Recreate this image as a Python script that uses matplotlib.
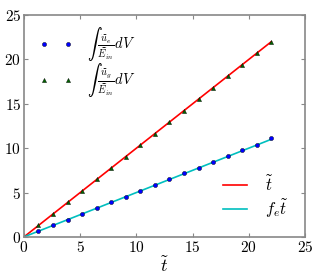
import matplotlib
matplotlib.use("Agg")
from matplotlib import pyplot as plt

plt.rcParams['mathtext.fontset'] = 'cm'
plt.rcParams['font.family'] = 'serif'
plt.rcParams['font.serif'] = ['cmr10']
plt.rcParams['axes.formatter.use_mathtext'] = True

# time samples and integrated energies
t = [1.29, 2.59, 3.88, 5.18, 6.47, 7.76, 9.06, 10.35, 11.65, 12.94,
     14.24, 15.53, 16.82, 18.12, 19.41, 20.71, 22.0]
u_e = [0.66, 1.3, 1.95, 2.6, 3.25, 3.9, 4.55, 5.2, 5.85, 6.5,
       7.15, 7.8, 8.45, 9.1, 9.75, 10.4, 11.1]
u_g = [1.29, 2.59, 3.88, 5.18, 6.47, 7.76, 9.06, 10.35, 11.65, 12.94,
       14.24, 15.53, 16.82, 18.12, 19.41, 20.71, 22.0]
f_e = 0.5
t_line = [0, 22]

fig = plt.figure(figsize=(3.2, 2.8), dpi=100)
ax = fig.add_axes([0.075, 0.154, 0.878, 0.792])

l1, = ax.plot(t_line, t_line, color='red', lw=1.2)
l2, = ax.plot(t_line, [f_e * v for v in t_line], color='c', lw=1.2)
p1, = ax.plot(t, u_e, 'o', color='blue', mec='k', mew=0.3, ms=3, ls='none')
p2, = ax.plot(t, u_g, '^', color='#006400', mec='k', mew=0.3, ms=3, ls='none')

ax.set_xlim(0, 25)
ax.set_ylim(0, 25)
ax.set_xticks([0, 5, 10, 15, 20, 25])
ax.set_yticks([0, 5, 10, 15, 20, 25])
ax.tick_params(direction='in', top=True, right=True, labelsize=11, length=3,
               color='#888888', pad=2)
for s in ax.spines.values():
    s.set_color('#888888')
    s.set_linewidth(1.2)
ax.set_xlabel(r'$\widetilde{t}$', fontsize=13, labelpad=0)

leg1 = ax.legend([p1, p2],
                 [r'$\int\,\frac{\widetilde{u}_e}{\widetilde{E}_{in}}dV$',
                  r'$\int\,\frac{\widetilde{u}_g}{\widetilde{E}_{in}}dV$'],
                 loc='upper left', bbox_to_anchor=(0.02, 1.0),
                 numpoints=2, frameon=False, fontsize=10.5,
                 handlelength=2.25, handletextpad=1.0, labelspacing=-0.15,
                 borderaxespad=0.3)
ax.add_artist(leg1)
ax.legend([l1, l2], [r'$\widetilde{t}$', r'$f_e\widetilde{t}$'],
          loc='lower right', frameon=False, fontsize=12, handlelength=1.4,
          handletextpad=1.1, labelspacing=0.2, borderaxespad=0.6)

fig.savefig('out.png', dpi=100)
